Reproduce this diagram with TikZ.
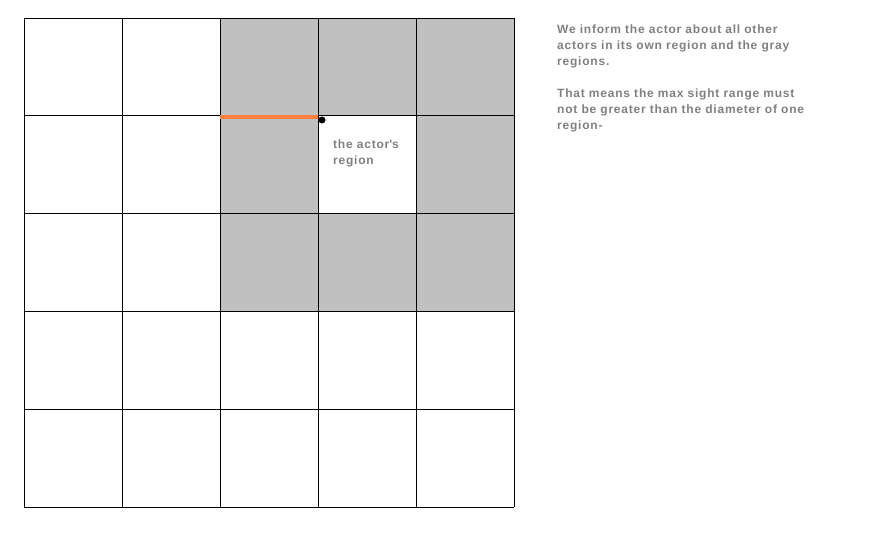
\documentclass[tikz,border=0pt]{standalone}
\usepackage{fontspec}
\setmainfont{Liberation Sans}[LetterSpace=6.5]
\definecolor{cellgray}{HTML}{C0C0C0}
\definecolor{txtgray}{HTML}{808080}
\definecolor{edgeorange}{HTML}{FF7F3F}
\begin{document}
\begin{tikzpicture}[x=1pt,y=-1pt,
  cell/.style={fill=cellgray},
  note/.style={text=txtgray,font=\fontsize{12}{16}\selectfont\bfseries,align=left,anchor=north west,inner sep=0pt}]
\useasboundingbox (0,0) rectangle (887,545);
% gray cells
\foreach \c/\r in {2/0,3/0,4/0,2/1,4/1,2/2,3/2,4/2}{
  \fill[cellgray] (24+98*\c,18+97.8*\r) rectangle ++(98,97.8);
}
% grid
\foreach \i in {0,...,5}{
  \draw[black,line width=0.8pt] (24+98*\i,18) -- (24+98*\i,507);
  \draw[black,line width=0.8pt] (24,18+97.8*\i) -- (514,18+97.8*\i);
}
\coordinate (oa) at (220,116.8);
\coordinate (ob) at (318,116.8);
\draw[edgeorange,line width=3.5pt] (oa) -- (ob);
\node[circle,fill=black,inner sep=0pt,minimum size=7pt] (dot) at (322,120) {};
\node[note] (actor) at (333,140) {the actor\textquotesingle s\\region};
\node[note] (txt1) at (557,25) {We inform the actor about all other\\actors in its own region and the gray\\regions.};
\node[note] (txt2) at (557,89) {That means the max sight range must\\not be greater than the diameter of one\\region-};
\end{tikzpicture}
\end{document}
